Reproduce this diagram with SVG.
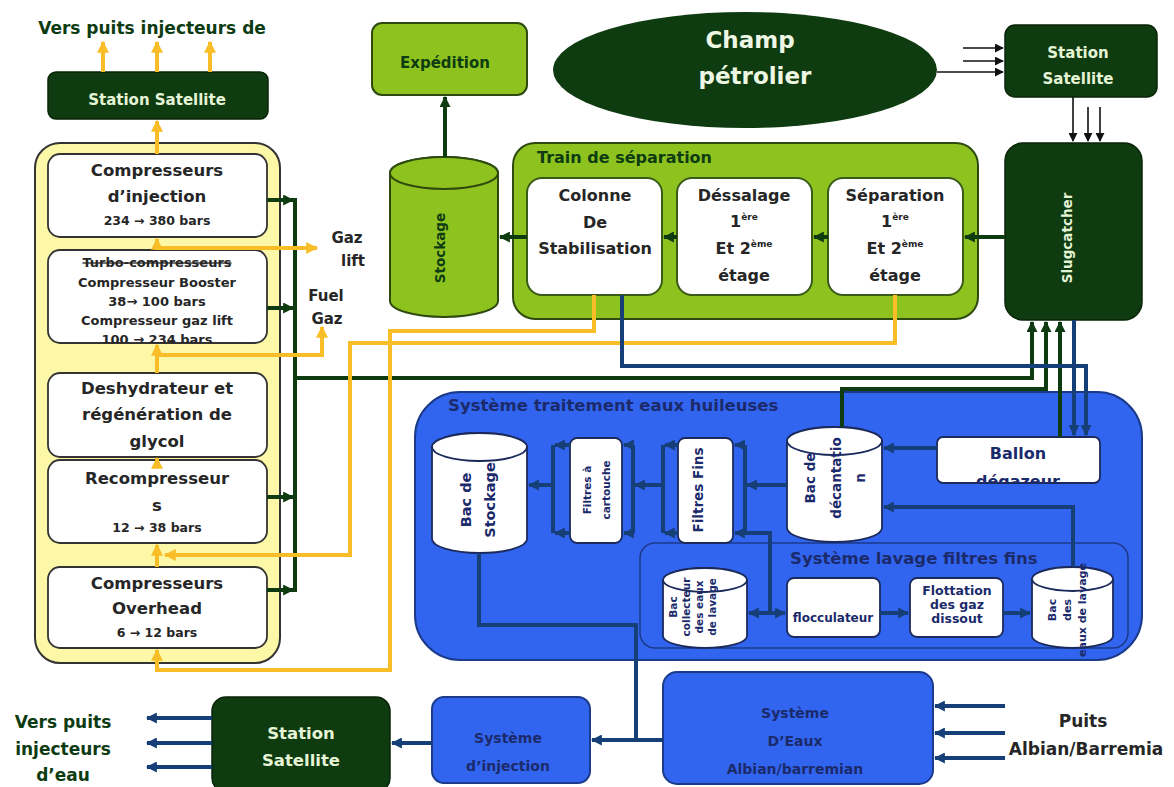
<svg xmlns="http://www.w3.org/2000/svg" width="1174" height="787" viewBox="0 0 1174 787">
<defs>
<style>
text{font-family:"DejaVu Sans","Liberation Sans",sans-serif;font-weight:bold;text-anchor:middle;}
.dg{fill:#0d3b12}
.lt{fill:#e6f4d6}
.bk{fill:#262626}
.nv{fill:#1b2a6b}
.st{text-anchor:start}
.sn{fill:#0e3b10;stroke:#082508;stroke-width:1.5}
.lg{fill:#8ec31f;stroke:#2e4a10;stroke-width:2}
.wb{fill:#fff;stroke:#333;stroke-width:1.8}
.wg{fill:#fff;stroke:#3a5a1a;stroke-width:2}
.bl{fill:#3265ef;stroke:#1b3a8a;stroke-width:2}
.wc{fill:#fff;stroke:#1b2a5b;stroke-width:1.8}
.cg{fill:none;stroke:#0e3b10;stroke-width:4}
.cy{fill:none;stroke:#f8bd27;stroke-width:4}
.cb{fill:none;stroke:#163f78;stroke-width:4}
.ck{fill:none;stroke:#111;stroke-width:1.6}
</style>
<marker id="aG" viewBox="0 0 10 10" refX="9" refY="5" markerWidth="11" markerHeight="11" markerUnits="userSpaceOnUse" orient="auto"><path d="M0,0 L10,5 L0,10 z" fill="#0e3b10"/></marker>
<marker id="aY" viewBox="0 0 10 10" refX="9" refY="5" markerWidth="12" markerHeight="12" markerUnits="userSpaceOnUse" orient="auto"><path d="M0,0 L10,5 L0,10 z" fill="#f8bd27"/></marker>
<marker id="aB" viewBox="0 0 10 10" refX="9" refY="5" markerWidth="11" markerHeight="11" markerUnits="userSpaceOnUse" orient="auto"><path d="M0,0 L10,5 L0,10 z" fill="#163f78"/></marker>
<marker id="aK" viewBox="0 0 10 10" refX="9" refY="5" markerWidth="9" markerHeight="9" markerUnits="userSpaceOnUse" orient="auto"><path d="M0,0 L10,5 L0,10 z" fill="#111"/></marker>
<clipPath id="clTurbo"><rect x="48" y="250" width="219" height="93" rx="12"/></clipPath>
<clipPath id="clBallon"><rect x="937" y="437" width="163" height="46" rx="6"/></clipPath>
</defs>
<rect width="1174" height="787" fill="#fff"/>

<!-- containers -->
<g id="panel-compression">
<rect x="35" y="143" width="245" height="520" rx="25" fill="#fdf7a8" stroke="#333" stroke-width="2"/>
</g>
<g id="panel-train">
<rect class="lg" x="513" y="143" width="465" height="176" rx="22"/>
<text class="dg st" x="537" y="163" font-size="16">Train de séparation</text>
</g>
<g id="panel-eaux-huileuses">
<rect class="bl" x="415" y="392" width="727" height="268" rx="45"/>
<text class="nv st" x="448" y="411" font-size="16.5">Système traitement eaux huileuses</text>
</g>
<g id="panel-lavage">
<rect x="640" y="543" width="488" height="105" rx="15" fill="#3265ef" stroke="#1b3a8a" stroke-width="1.5"/>
<text class="nv st" x="790" y="564" font-size="16.5">Système lavage filtres fins</text>
</g>

<!-- nodes -->
<g id="txt-vers-gaz"><text class="dg" x="152" y="34" font-size="17">Vers puits injecteurs de</text></g>
<g id="station-gaz">
<rect class="sn" x="48" y="72" width="220" height="47" rx="8"/>
<text class="lt" x="157" y="105" font-size="15">Station Satellite</text>
</g>
<g id="comp-injection">
<rect class="wb" x="48" y="154" width="219" height="83" rx="12"/>
<text class="bk" x="157" y="176" font-size="16.5">Compresseurs</text>
<text class="bk" x="157" y="202" font-size="16.5">d’injection</text>
<text class="bk" x="157" y="225" font-size="12.5">234 → 380 bars</text>
</g>
<g id="turbo">
<rect class="wb" x="48" y="250" width="219" height="93" rx="12"/>
<g clip-path="url(#clTurbo)">
<text class="bk" x="157" y="267" font-size="13" style="text-decoration:line-through">Turbo-compresseurs</text>
<text class="bk" x="157" y="287" font-size="13">Compresseur Booster</text>
<text class="bk" x="157" y="306" font-size="13">38→ 100 bars</text>
<text class="bk" x="157" y="325" font-size="13">Compresseur gaz lift</text>
<text class="bk" x="157" y="344" font-size="13">100 → 234 bars</text>
</g>
</g>
<g id="deshydrateur">
<rect class="wb" x="48" y="373" width="219" height="84" rx="12"/>
<text class="bk" x="157" y="394" font-size="16.5">Deshydrateur et</text>
<text class="bk" x="157" y="420" font-size="16.5">régénération de</text>
<text class="bk" x="157" y="447" font-size="16.5">glycol</text>
</g>
<g id="recompresseur">
<rect class="wb" x="48" y="460" width="219" height="83" rx="12"/>
<text class="bk" x="157" y="484" font-size="16.5">Recompresseur</text>
<text class="bk" x="157" y="511" font-size="16.5">s</text>
<text class="bk" x="157" y="532" font-size="12.5">12 → 38 bars</text>
</g>
<g id="overhead">
<rect class="wb" x="48" y="567" width="219" height="81" rx="12"/>
<text class="bk" x="157" y="589" font-size="16.5">Compresseurs</text>
<text class="bk" x="157" y="614" font-size="16.5">Overhead</text>
<text class="bk" x="157" y="637" font-size="12.5">6 → 12 bars</text>
</g>
<g id="gaz-lift"><text class="bk" x="347" y="243" font-size="15">Gaz</text><text class="bk" x="353" y="266" font-size="15">lift</text></g>
<g id="fuel-gaz"><text class="bk" x="326" y="301" font-size="15">Fuel</text><text class="bk" x="327" y="324" font-size="15">Gaz</text></g>

<g id="expedition">
<rect class="lg" x="372" y="23" width="155" height="72" rx="10"/>
<text class="dg" x="445" y="68" font-size="15">Expédition</text>
</g>
<g id="stockage">
<path class="lg" d="M390,173 V301 A54,16 0 0 0 498,301 V173 A54,16 0 0 0 390,173 Z"/>
<ellipse class="lg" cx="444" cy="173" rx="54" ry="16"/>
<text class="dg" transform="translate(440,248) rotate(-90)" dy="0.35em" font-size="13.5">Stockage</text>
</g>
<g id="champ">
<ellipse cx="745" cy="70" rx="192" ry="58" fill="#0e3b10"/>
<text x="750" y="48" font-size="23" fill="#eef7e4">Champ</text>
<text x="755" y="84" font-size="23" fill="#eef7e4">pétrolier</text>
</g>
<g id="station-nord">
<rect class="sn" x="1005" y="25" width="152" height="72" rx="10"/>
<text class="lt" x="1078" y="58" font-size="15">Station</text>
<text class="lt" x="1078" y="84" font-size="15">Satellite</text>
</g>
<g id="slugcatcher">
<rect class="sn" x="1005" y="143" width="137" height="177" rx="18"/>
<text class="lt" transform="translate(1067,238) rotate(-90)" dy="0.35em" font-size="13.5">Slugcatcher</text>
</g>
<g id="colonne">
<rect class="wg" x="527" y="178" width="135" height="117" rx="15"/>
<text class="bk" x="595" y="201" font-size="16">Colonne</text>
<text class="bk" x="595" y="228" font-size="16">De</text>
<text class="bk" x="595" y="254" font-size="16">Stabilisation</text>
</g>
<g id="dessalage">
<rect class="wg" x="677" y="178" width="135" height="117" rx="15"/>
<text class="bk" x="744" y="201" font-size="16">Déssalage</text>
<text class="bk" x="744" y="227" font-size="16">1<tspan font-size="9" dy="-7">ère</tspan></text>
<text class="bk" x="744" y="254" font-size="16">Et 2<tspan font-size="9" dy="-7">ème</tspan></text>
<text class="bk" x="744" y="281" font-size="16">étage</text>
</g>
<g id="separation">
<rect class="wg" x="828" y="178" width="135" height="117" rx="15"/>
<text class="bk" x="895" y="201" font-size="16">Séparation</text>
<text class="bk" x="895" y="227" font-size="16">1<tspan font-size="9" dy="-7">ère</tspan></text>
<text class="bk" x="895" y="254" font-size="16">Et 2<tspan font-size="9" dy="-7">ème</tspan></text>
<text class="bk" x="895" y="281" font-size="16">étage</text>
</g>

<g id="bac-stockage">
<path class="wc" d="M432,447 V539 A47.5,14 0 0 0 527,539 V447 A47.5,14 0 0 0 432,447 Z"/>
<ellipse class="wc" cx="479.5" cy="447" rx="47.5" ry="14"/>
<text class="nv" transform="translate(466,500) rotate(-90)" dy="0.35em" font-size="14.5">Bac de</text>
<text class="nv" transform="translate(490,500) rotate(-90)" dy="0.35em" font-size="14.5">Stockage</text>
</g>
<g id="filtres-cartouche">
<rect class="wc" x="570" y="438" width="52" height="105" rx="7"/>
<text class="nv" transform="translate(587,490) rotate(-90)" dy="0.35em" font-size="10.5">Filtres à</text>
<text class="nv" transform="translate(606,490) rotate(-90)" dy="0.35em" font-size="10.5">cartouche</text>
</g>
<g id="filtres-fins">
<rect class="wc" x="678" y="438" width="55" height="105" rx="7"/>
<text class="nv" transform="translate(698,490) rotate(-90)" dy="0.35em" font-size="13.5">Filtres Fins</text>
</g>
<g id="bac-decantation">
<path class="wc" d="M787,441 V528 A47.5,14 0 0 0 882,528 V441 A47.5,14 0 0 0 787,441 Z"/>
<ellipse class="wc" cx="834.5" cy="441" rx="47.5" ry="14"/>
<text class="nv" transform="translate(810,478) rotate(-90)" dy="0.35em" font-size="13.5">Bac de</text>
<text class="nv" transform="translate(836,478) rotate(-90)" dy="0.35em" font-size="13.5">décantatio</text>
<text class="nv" transform="translate(860,478) rotate(-90)" dy="0.35em" font-size="13.5">n</text>
</g>
<g id="ballon">
<rect class="wc" x="937" y="437" width="163" height="46" rx="6"/>
<text class="nv" x="1018" y="459" font-size="16">Ballon</text>
<text class="nv" x="1018" y="487" font-size="16" clip-path="url(#clBallon)">dégazeur</text>
</g>
<g id="bac-collecteur">
<path class="wc" d="M663,580 V636 A42,12 0 0 0 747,636 V580 A42,12 0 0 0 663,580 Z"/>
<ellipse class="wc" cx="705" cy="580" rx="42" ry="12"/>
<text class="nv" transform="translate(673,607) rotate(-90)" dy="0.35em" font-size="10.5">Bac</text>
<text class="nv" transform="translate(686,607) rotate(-90)" dy="0.35em" font-size="10.5">collecteur</text>
<text class="nv" transform="translate(699,607) rotate(-90)" dy="0.35em" font-size="10.5">des eaux</text>
<text class="nv" transform="translate(712,607) rotate(-90)" dy="0.35em" font-size="10.5">de lavage</text>
</g>
<g id="flocculateur">
<rect class="wc" x="787" y="578" width="93" height="59" rx="7"/>
<text class="nv" x="833" y="622" font-size="12">flocculateur</text>
</g>
<g id="flottation">
<rect class="wc" x="910" y="578" width="93" height="59" rx="7"/>
<text class="nv" x="957" y="595" font-size="12.5">Flottation</text>
<text class="nv" x="957" y="609" font-size="12.5">des gaz</text>
<text class="nv" x="957" y="623" font-size="12.5">dissout</text>
</g>
<g id="bac-eaux-lavage">
<path class="wc" d="M1032,579 V636 A40.5,12 0 0 0 1113,636 V579 A40.5,12 0 0 0 1032,579 Z"/>
<ellipse class="wc" cx="1072.5" cy="579" rx="40.5" ry="12"/>
<text class="nv" transform="translate(1052,610) rotate(-90)" dy="0.35em" font-size="11">Bac</text>
<text class="nv" transform="translate(1067,610) rotate(-90)" dy="0.35em" font-size="11">des</text>
<text class="nv" transform="translate(1082,610) rotate(-90)" dy="0.35em" font-size="11">eaux de lavage</text>
</g>

<g id="station-eau">
<rect class="sn" x="212" y="697" width="178" height="95" rx="14"/>
<text class="lt" x="301" y="739" font-size="16.5">Station</text>
<text class="lt" x="301" y="766" font-size="16.5">Satellite</text>
</g>
<g id="txt-vers-eau">
<text class="dg" x="63" y="728" font-size="17">Vers puits</text>
<text class="dg" x="63" y="755" font-size="17">injecteurs</text>
<text class="dg" x="63" y="781" font-size="17">d’eau</text>
</g>
<g id="systeme-injection">
<rect class="bl" x="432" y="697" width="158" height="86" rx="12"/>
<text class="nv" x="508" y="743" font-size="14">Système</text>
<text class="nv" x="508" y="771" font-size="14">d’injection</text>
</g>
<g id="systeme-eaux">
<rect class="bl" x="663" y="672" width="270" height="112" rx="14"/>
<text class="nv" x="795" y="718" font-size="14">Système</text>
<text class="nv" x="795" y="746" font-size="14">D’Eaux</text>
<text class="nv" x="795" y="774" font-size="14">Albian/barremian</text>
</g>
<g id="txt-puits">
<text class="bk" x="1083" y="727" font-size="17">Puits</text>
<text class="bk" x="1086" y="755" font-size="17">Albian/Barremia</text>
</g>

<!-- connectors -->
<g id="connectors">
<path class="ck" d="M963,48 H1003" marker-end="url(#aK)"/>
<path class="ck" d="M963,61 H1003" marker-end="url(#aK)"/>
<path class="ck" d="M937,72 H1003" marker-end="url(#aK)"/>
<path class="ck" d="M1073,97 V141" marker-end="url(#aK)"/>
<path class="ck" d="M1088,107 V141" marker-end="url(#aK)"/>
<path class="ck" d="M1100,107 V141" marker-end="url(#aK)"/>
<path class="cg" d="M445,157 V97" marker-end="url(#aG)"/>
<path class="cg" d="M1005,237 H965" marker-end="url(#aG)"/>
<path class="cg" d="M828,237 H814" marker-end="url(#aG)"/>
<path class="cg" d="M677,237 H664" marker-end="url(#aG)"/>
<path class="cg" d="M527,237 H500" marker-end="url(#aG)"/>
<path class="cg" d="M267,200 H293" marker-end="url(#aG)"/>
<path class="cg" d="M267,308 H293" marker-end="url(#aG)"/>
<path class="cg" d="M267,497 H293" marker-end="url(#aG)"/>
<path class="cg" d="M267,590 H293" marker-end="url(#aG)"/>
<path class="cg" d="M295,198 V592"/>
<path class="cg" d="M295,378 H1032 V322" marker-end="url(#aG)"/>
<path class="cg" d="M842,427 V389 H1046 V322" marker-end="url(#aG)"/>
<path class="cg" d="M1060,437 V322" marker-end="url(#aG)"/>
<path class="cy" d="M103,72 V42" marker-end="url(#aY)"/>
<path class="cy" d="M157,72 V42" marker-end="url(#aY)"/>
<path class="cy" d="M210,72 V42" marker-end="url(#aY)"/>
<path class="cy" d="M157,154 V121" marker-end="url(#aY)"/>
<path class="cy" d="M157,250 V239" marker-end="url(#aY)"/>
<path class="cy" d="M157,248 H317" marker-end="url(#aY)"/>
<path class="cy" d="M157,373 V345" marker-end="url(#aY)"/>
<path class="cy" d="M157,355 H322 V327" marker-end="url(#aY)"/>
<path class="cy" d="M157,462 V458" marker-end="url(#aY)"/>
<path class="cy" d="M157,567 V545" marker-end="url(#aY)"/>
<path class="cy" d="M895,295 V343 H350 V555 H165" marker-end="url(#aY)"/>
<path class="cy" d="M594,295 V331 H390 V670 H157 V650" marker-end="url(#aY)"/>
<path class="cb" d="M622,295 V366 H1086 V435" marker-end="url(#aB)"/>
<path class="cb" d="M1074,320 V435" marker-end="url(#aB)"/>
<path class="cb" d="M937,448 H884" marker-end="url(#aB)"/>
<path class="cb" d="M1073,567 V507 H884" marker-end="url(#aB)"/>
<path class="cb" d="M787,485 H747" marker-end="url(#aB)"/>
<path class="cb" d="M745,445 V533"/>
<path class="cb" d="M745,445 H735" marker-end="url(#aB)"/>
<path class="cb" d="M745,533 H735" marker-end="url(#aB)"/>
<path class="cb" d="M663,445 V533"/>
<path class="cb" d="M678,445 H665" marker-end="url(#aB)"/>
<path class="cb" d="M678,533 H665" marker-end="url(#aB)"/>
<path class="cb" d="M663,485 H635" marker-end="url(#aB)"/>
<path class="cb" d="M633,445 V533"/>
<path class="cb" d="M633,445 H624" marker-end="url(#aB)"/>
<path class="cb" d="M633,533 H624" marker-end="url(#aB)"/>
<path class="cb" d="M553,445 V533"/>
<path class="cb" d="M570,445 H555" marker-end="url(#aB)"/>
<path class="cb" d="M570,533 H555" marker-end="url(#aB)"/>
<path class="cb" d="M553,485 H529" marker-end="url(#aB)"/>
<path class="cb" d="M745,533 H770 V613"/>
<path class="cb" d="M770,613 H749" marker-end="url(#aB)"/>
<path class="cb" d="M770,613 H785" marker-end="url(#aB)"/>
<path class="cb" d="M880,613 H908" marker-end="url(#aB)"/>
<path class="cb" d="M1003,613 H1030" marker-end="url(#aB)"/>
<path class="cb" d="M479,553 V625 H636 V740 H592" marker-end="url(#aB)"/>
<path class="cb" d="M663,740 H636"/>
<path class="cb" d="M432,743 H392" marker-end="url(#aB)"/>
<path class="cb" d="M212,718 H147" marker-end="url(#aB)"/>
<path class="cb" d="M212,743 H147" marker-end="url(#aB)"/>
<path class="cb" d="M212,767 H147" marker-end="url(#aB)"/>
<path class="cb" d="M1005,706 H935" marker-end="url(#aB)"/>
<path class="cb" d="M1005,733 H935" marker-end="url(#aB)"/>
<path class="cb" d="M1005,758 H935" marker-end="url(#aB)"/>
</g>
</svg>
